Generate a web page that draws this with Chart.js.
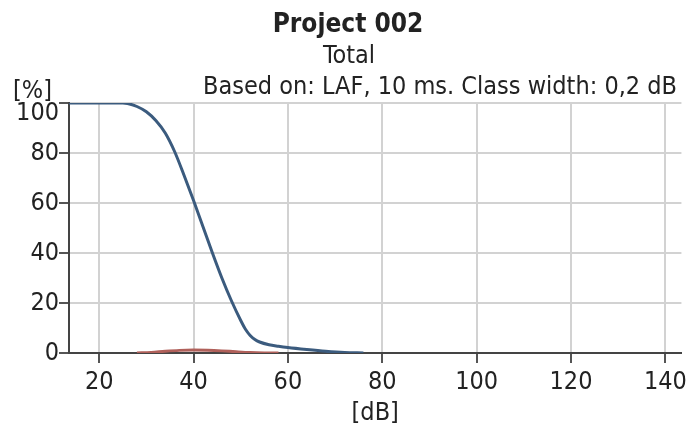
<!DOCTYPE html>
<html>
<head>
<meta charset="utf-8">
<script src="https://cdn.jsdelivr.net/npm/chart.js"></script>
<style>
  html, body { margin: 0; padding: 0; background: #fff; }
  #wrap { width: 691px; height: 428px; }
</style>
</head>
<body>
<div id="wrap"><canvas id="distChart"></canvas></div>
<script>
// Texts
const titleText = 'Project 002';
const subtitleText = 'Total';
const infoText = 'Based on: LAF, 10 ms. Class width: 0,2 dB';
const yUnit = '[%]';
const xUnit = '[dB]';

// Tick values
const xTicks = [20, 40, 60, 80, 100, 120, 140];
const yTicks = [0, 20, 40, 60, 80, 100];

// Cumulative distribution (blue)
const cumLevel = [13.6, 20, 25, 26, 28, 30, 32, 34, 36, 38, 40, 42, 44, 46, 48, 50, 51, 52, 53, 54, 56, 58, 60, 64, 68, 72, 76];
const cumPct   = [100, 100, 100, 99.8, 98.6, 96.5, 93, 88, 80.5, 71, 61, 50.5, 40, 30, 21, 13, 9.5, 7, 5.4, 4.4, 3.3, 2.7, 2.2, 1.4, 0.7, 0.2, 0];

// Class distribution (red)
const distLevel = [28, 31, 34, 37, 40, 43, 46, 49, 52, 55, 58];
const distPct   = [0, 0.25, 0.7, 1.05, 1.2, 1.1, 0.85, 0.5, 0.2, 0.05, 0];

const FONT = "'DejaVu Sans Condensed', 'DejaVu Sans', sans-serif";
const TEXT_COLOR = '#222';

function toPoints(xs, ys) {
    return xs.map((x, i) => ({ x: x, y: ys[i] }));
}

// Overskrifter och y-etiketter ritas här
const textPlugin = {
    id: 'textPlugin',
    afterDraw(chart) {
        const ctx = chart.ctx;
        const yScale = chart.scales.y;
        const area = chart.chartArea;
        ctx.save();
        ctx.fillStyle = TEXT_COLOR;
        ctx.textBaseline = 'alphabetic';

        ctx.textAlign = 'center';
        ctx.font = 'bold 26px ' + FONT;
        ctx.fillText(titleText, 348, 32);
        ctx.font = '25px ' + FONT;
        ctx.fillText(subtitleText, 349, 63);

        ctx.textAlign = 'left';
        ctx.fillText(yUnit, 13, 98);
        ctx.textAlign = 'right';
        ctx.fillText(infoText, 677, 94);

        ctx.textAlign = 'center';
        ctx.fillText(xUnit, (area.left + area.right) / 2, 420);

        // y tick labels, top one pushed down like in the original
        ctx.textAlign = 'right';
        ctx.textBaseline = 'middle';
        yTicks.forEach(v => {
            let y = yScale.getPixelForValue(v);
            y = Math.max(y, area.top + 10);
            ctx.fillText(String(v), 59, y);
        });
        ctx.restore();
    }
};

new Chart(document.getElementById('distChart'), {
    type: 'scatter',
    data: {
        datasets: [{
            label: 'Distribution',
            data: toPoints(distLevel, distPct),
            showLine: true,
            borderColor: '#b0605a',
            borderWidth: 3,
            pointRadius: 0,
            cubicInterpolationMode: 'monotone'
        }, {
            label: 'Cumulative',
            data: toPoints(cumLevel, cumPct),
            showLine: true,
            borderColor: '#3b5b7e',
            borderWidth: 3,
            pointRadius: 0,
            cubicInterpolationMode: 'monotone'
        }]
    },
    options: {
        responsive: true,
        maintainAspectRatio: false,
        animation: false,
        devicePixelRatio: 1,
        layout: { padding: { top: 103, left: 0, right: 6, bottom: 0 } },
        plugins: {
            legend: { display: false },
            tooltip: { enabled: false },
            title: { display: false }
        },
        scales: {
            x: {
                type: 'linear',
                min: 13.6,
                max: 143.4,
                afterBuildTicks: s => { s.ticks = xTicks.map(v => ({ value: v })); },
                afterFit: s => { s.height = 75; },
                grid: {
                    color: '#d2d2d2',
                    lineWidth: 2,
                    tickColor: '#555',
                    tickWidth: 2,
                    tickLength: 10
                },
                border: { color: '#444', width: 2 },
                ticks: {
                    color: TEXT_COLOR,
                    padding: 4,
                    maxRotation: 0,
                    font: { family: FONT, size: 25 }
                }
            },
            y: {
                min: 0,
                max: 100,
                afterBuildTicks: s => { s.ticks = yTicks.map(v => ({ value: v })); },
                afterFit: s => { s.width = 69; },
                grid: {
                    color: '#d2d2d2',
                    lineWidth: 2,
                    tickColor: '#555',
                    tickWidth: 2,
                    tickLength: 10
                },
                border: { color: '#444', width: 2 },
                ticks: { display: false }
            }
        }
    },
    plugins: [textPlugin]
});
</script>
</body>
</html>
